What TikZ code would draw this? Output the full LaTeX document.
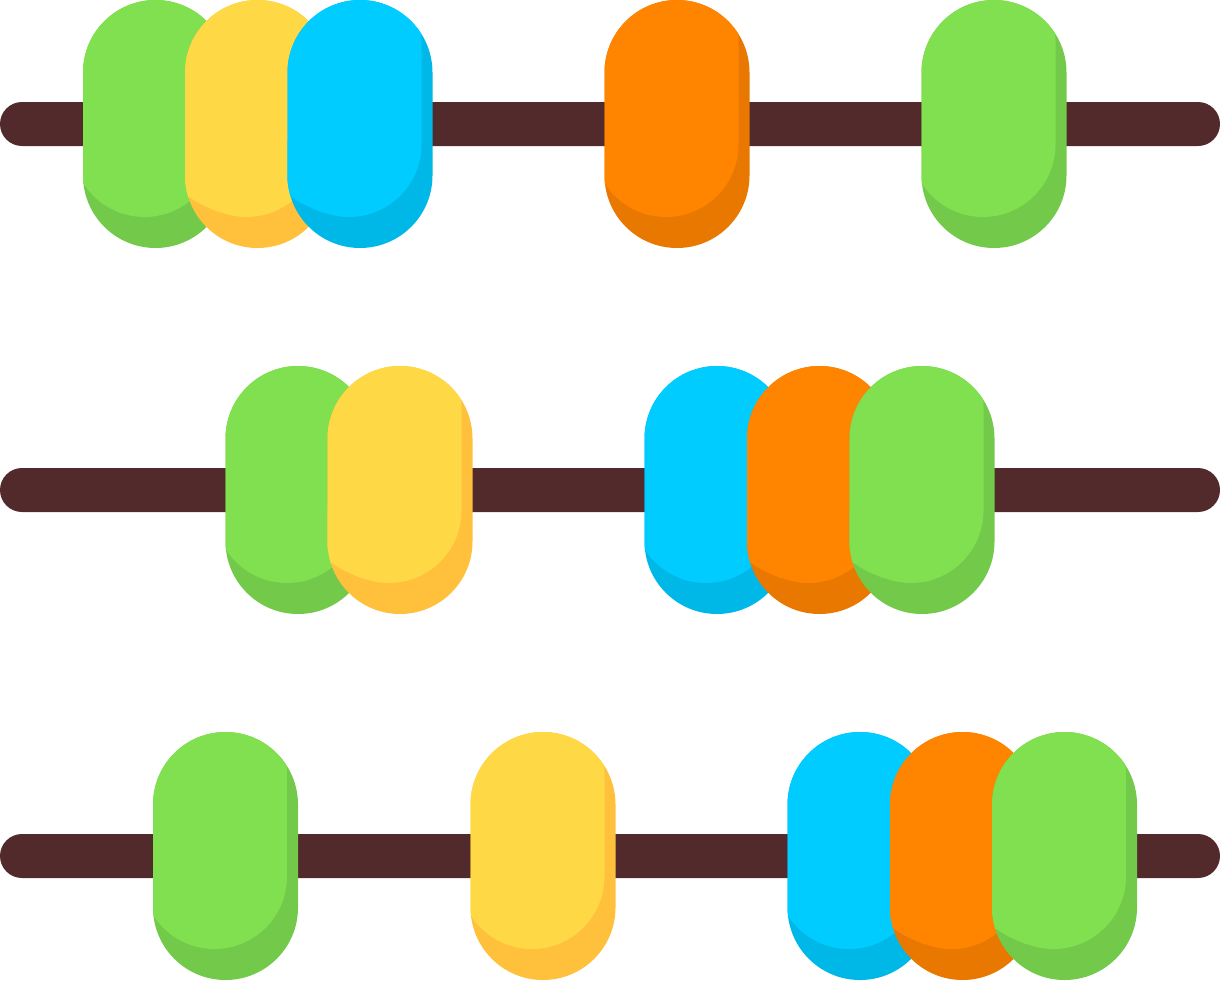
\documentclass[tikz,border=0pt]{standalone}
\definecolor{rod}{HTML}{522A2C}
\definecolor{greenlight}{HTML}{80E050}
\definecolor{greendark}{HTML}{73C94A}
\definecolor{yellowlight}{HTML}{FFD845}
\definecolor{yellowdark}{HTML}{FFC13B}
\definecolor{bluelight}{HTML}{00CCFF}
\definecolor{bluedark}{HTML}{00B8E8}
\definecolor{orangelight}{HTML}{FF8500}
\definecolor{orangedark}{HTML}{E87800}
\tikzset{
  rodline/.style={fill=rod, rounded corners=0.55cm},
  capsule/.style={rounded corners=1.8125cm}
}
\newcommand{\bead}[3]{
  \begin{scope}[shift={(#1,#2)}]
    \fill [capsule, fill=#3dark] (0,0) rectangle (145,248);
    \begin{scope}
      \clip [capsule] (0,0) rectangle (145,248);
      \fill [capsule, fill=#3light] (-11,-31) rectangle (134,217);
    \end{scope}
  \end{scope}
}
% same bead, for one that sits on top of its left neighbour
\newcommand{\beadlap}[3]{
  \bead{#1}{#2}{#3}
  \begin{scope}[shift={(#1,#2)}]
    \clip [capsule] (0,0) rectangle (145,248);
    \fill [fill=#3light] (-5,140) -- (-5,193.5) -- (5,197.5) .. controls (13,203.5) and (25,208.6) .. (35,212.5) -- (35,140) -- cycle;
  \end{scope}
}
\begin{document}
\begin{tikzpicture}[x=0.025cm,y=-0.025cm]
\newcommand{\rowb}{366}
\newcommand{\rowc}{732}

\useasboundingbox (0,0) rectangle (1220,980);

\foreach \yrod in {0,\rowb,\rowc}
  \fill [rodline] (0,102+\yrod) rectangle (1220,146+\yrod);

\bead{83}{0}{green}
\beadlap{185}{0}{yellow}
\beadlap{287.5}{0}{blue}
\bead{604.5}{0}{orange}
\bead{921.5}{0}{green}

\bead{225.5}{\rowb}{green}
\beadlap{327.5}{\rowb}{yellow}
\bead{644.5}{\rowb}{blue}
\beadlap{747}{\rowb}{orange}
\beadlap{849.5}{\rowb}{green}

\bead{153}{\rowc}{green}
\bead{470.5}{\rowc}{yellow}
\bead{787.5}{\rowc}{blue}
\beadlap{890}{\rowc}{orange}
\beadlap{992}{\rowc}{green}
\end{tikzpicture}
\end{document}
